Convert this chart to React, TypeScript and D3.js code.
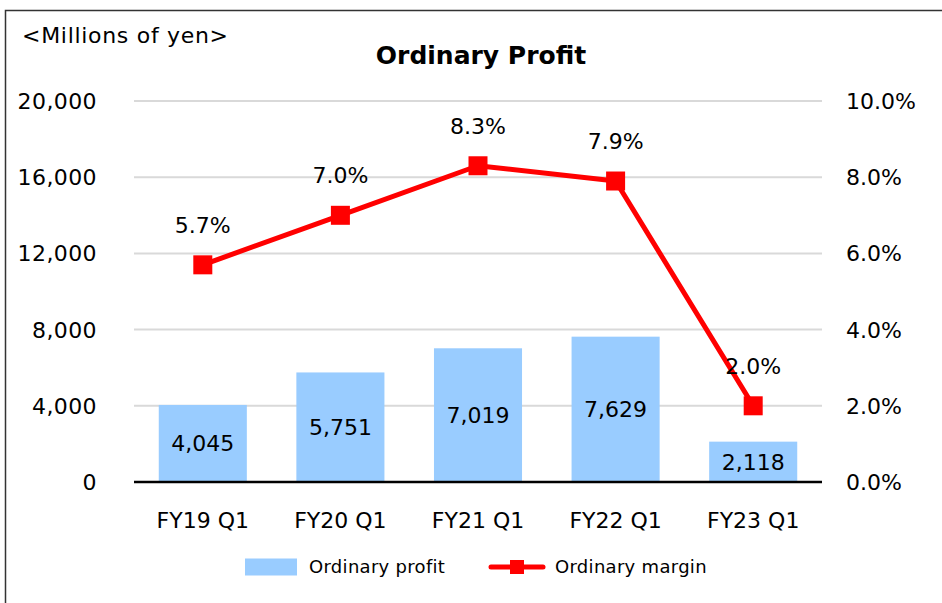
import React, { useEffect, useRef } from 'react';
import * as d3 from 'd3';

const categories = ['FY19 Q1', 'FY20 Q1', 'FY21 Q1', 'FY22 Q1', 'FY23 Q1'];
const profit = [4045, 5751, 7019, 7629, 2118];
const margin = [5.7, 7.0, 8.3, 7.9, 2.0];
const leftTicks = [0, 4000, 8000, 12000, 16000, 20000];
const rightTicks = [0, 2, 4, 6, 8, 10];

const FONT = '"DejaVu Sans", Verdana, sans-serif';

const ProfitChart = () => {
  const ref = useRef<SVGSVGElement>(null);

  useEffect(() => {
    const width = 942;
    const height = 603;
    const plot = { l: 134, r: 822, t: 101, b: 482 };

    const svg = d3.select(ref.current);
    svg.selectAll('*').remove();
    svg.attr('width', width).attr('height', height);

    // outer frame
    svg
      .append('rect')
      .attr('x', 5.5)
      .attr('y', 10.5)
      .attr('width', 960)
      .attr('height', 620)
      .attr('fill', 'white')
      .attr('stroke', '#333')
      .attr('stroke-width', 1.5);

    const x = d3
      .scaleBand()
      .domain(categories)
      .range([plot.l, plot.r])
      .paddingInner(0.36)
      .paddingOuter(0.18);

    const yL = d3.scaleLinear().domain([0, 20000]).range([plot.b, plot.t]);
    const yR = d3.scaleLinear().domain([0, 10]).range([plot.b, plot.t]);

    // gridlines
    svg
      .append('g')
      .selectAll('line')
      .data(leftTicks.filter(d => d > 0))
      .join('line')
      .attr('x1', plot.l)
      .attr('x2', plot.r)
      .attr('y1', d => yL(d))
      .attr('y2', d => yL(d))
      .attr('stroke', '#d9d9d9')
      .attr('stroke-width', 2);

    // left ticks
    svg
      .append('g')
      .selectAll('text')
      .data(leftTicks)
      .join('text')
      .attr('x', 97)
      .attr('y', d => yL(d))
      .attr('dy', '0.36em')
      .attr('text-anchor', 'end')
      .attr('font-family', FONT)
      .attr('font-size', 22)
      .attr('letter-spacing', 0.4)
      .text(d => d3.format(',')(d));

    // right ticks
    svg
      .append('g')
      .selectAll('text')
      .data(rightTicks)
      .join('text')
      .attr('x', 846)
      .attr('y', d => yR(d))
      .attr('dy', '0.36em')
      .attr('text-anchor', 'start')
      .attr('font-family', FONT)
      .attr('font-size', 22)
      .text(d => d.toFixed(1) + '%');

    // bars
    const bars = svg.append('g');
    bars
      .selectAll('rect')
      .data(profit)
      .join('rect')
      .attr('x', (d, i) => x(categories[i])!)
      .attr('y', d => yL(d))
      .attr('width', x.bandwidth())
      .attr('height', d => yL(0) - yL(d))
      .attr('fill', '#99ccff');

    bars
      .selectAll('text')
      .data(profit)
      .join('text')
      .attr('x', (d, i) => x(categories[i])! + x.bandwidth() / 2)
      .attr('y', d => (yL(d) + yL(0)) / 2)
      .attr('dy', '0.36em')
      .attr('text-anchor', 'middle')
      .attr('font-family', FONT)
      .attr('font-size', 22)
      .text(d => d3.format(',')(d));

    // axis baseline
    svg
      .append('line')
      .attr('x1', plot.l)
      .attr('x2', plot.r)
      .attr('y1', yL(0))
      .attr('y2', yL(0))
      .attr('stroke', '#000')
      .attr('stroke-width', 2.5);

    // x labels
    svg
      .append('g')
      .selectAll('text')
      .data(categories)
      .join('text')
      .attr('x', d => x(d)! + x.bandwidth() / 2)
      .attr('y', 520)
      .attr('dy', '0.36em')
      .attr('text-anchor', 'middle')
      .attr('font-family', FONT)
      .attr('font-size', 22)
      .text(d => d);

    // margin line
    const cx = (i: number) => x(categories[i])! + x.bandwidth() / 2;
    const line = d3
      .line<number>()
      .x((d, i) => cx(i))
      .y(d => yR(d));

    svg
      .append('path')
      .datum(margin)
      .attr('d', line)
      .attr('fill', 'none')
      .attr('stroke', '#ff0000')
      .attr('stroke-width', 5)
      .attr('stroke-linejoin', 'round');

    const ms = 19;
    svg
      .append('g')
      .selectAll('rect')
      .data(margin)
      .join('rect')
      .attr('x', (d, i) => cx(i) - ms / 2)
      .attr('y', d => yR(d) - ms / 2)
      .attr('width', ms)
      .attr('height', ms)
      .attr('fill', '#ff0000');

    svg
      .append('g')
      .selectAll('text')
      .data(margin)
      .join('text')
      .attr('x', (d, i) => cx(i))
      .attr('y', d => yR(d) - 40)
      .attr('dy', '0.36em')
      .attr('text-anchor', 'middle')
      .attr('font-family', FONT)
      .attr('font-size', 22)
      .text(d => d.toFixed(1) + '%');

    // titles
    svg
      .append('text')
      .attr('x', 22)
      .attr('y', 35)
      .attr('dy', '0.36em')
      .attr('font-family', FONT)
      .attr('font-size', 22)
      .attr('letter-spacing', 0.7)
      .text('<Millions of yen>');

    svg
      .append('text')
      .attr('x', 481)
      .attr('y', 55)
      .attr('dy', '0.36em')
      .attr('text-anchor', 'middle')
      .attr('font-family', FONT)
      .attr('font-size', 25)
      .attr('font-weight', 'bold')
      .text('Ordinary Profit');

    // legend
    const lg = svg.append('g').attr('transform', 'translate(0,567)');
    lg.append('rect')
      .attr('x', 245)
      .attr('y', -8.5)
      .attr('width', 52)
      .attr('height', 17)
      .attr('fill', '#99ccff');
    lg.append('text')
      .attr('x', 309)
      .attr('dy', '0.36em')
      .attr('font-family', FONT)
      .attr('font-size', 18)
      .attr('letter-spacing', 0.3)
      .text('Ordinary profit');
    lg.append('line')
      .attr('x1', 491)
      .attr('x2', 543)
      .attr('stroke', '#ff0000')
      .attr('stroke-width', 5)
      .attr('stroke-linecap', 'round');
    lg.append('rect')
      .attr('x', 510)
      .attr('y', -7)
      .attr('width', 14)
      .attr('height', 14)
      .attr('fill', '#ff0000');
    lg.append('text')
      .attr('x', 555)
      .attr('dy', '0.36em')
      .attr('font-family', FONT)
      .attr('font-size', 18)
      .attr('letter-spacing', 0.3)
      .text('Ordinary margin');
  }, []);

  return <svg ref={ref} style={{ position: 'absolute', left: 0, top: 0, display: 'block' }} />;
};

export default function App() {
  return <ProfitChart />;
}
